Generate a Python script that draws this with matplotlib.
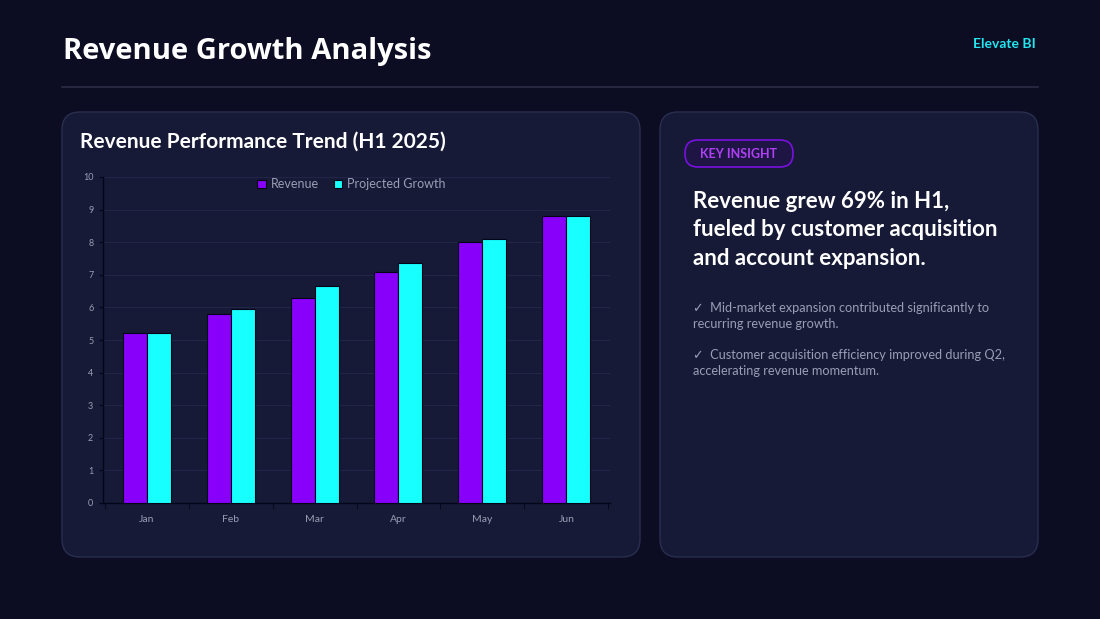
import numpy as np
import matplotlib
matplotlib.use("Agg")
import matplotlib.pyplot as plt
from matplotlib.patches import FancyBboxPatch

months = ["Jan", "Feb", "Mar", "Apr", "May", "Jun"]
revenue = [5.2, 5.8, 6.3, 7.1, 8.0, 8.8]
projected = [5.2, 5.95, 6.65, 7.35, 8.1, 8.8]
y_ticks = list(range(0, 11))

bullets = [
    "\u2713  Mid-market expansion contributed significantly to\nrecurring revenue growth.",
    "\u2713  Customer acquisition efficiency improved during Q2,\naccelerating revenue momentum.",
]

page_bg = "#0c0c22"
card_bg = "#161a36"
card_edge = "#2a2e4f"
purple = "#8800fa"
cyan = "#18ffff"
grey_text = "#9a9db5"

plt.rcParams["font.family"] = ["Lato", "DejaVu Sans"]

fig = plt.figure(figsize=(11, 6.19), dpi=100)
fig.patch.set_facecolor(page_bg)

# background layer in pixel coordinates
bg = fig.add_axes([0, 0, 1, 1])
bg.set_xlim(0, 1100)
bg.set_ylim(619, 0)
bg.axis("off")

bg.text(63, 51, "Revenue Growth Analysis", color="white", fontsize=21,
        fontweight="bold", va="center", ha="left",
        family=["Open Sans", "DejaVu Sans"])
bg.text(1036, 44, "Elevate BI", color="#22e6f0", fontsize=10,
        fontweight="bold", va="center", ha="right")
bg.plot([62, 1038], [87, 87], color="#2b2d48", lw=1.2)

for x0, x1 in [(62, 640), (660, 1038)]:
    card = FancyBboxPatch((x0, 112), x1 - x0, 445,
                          boxstyle="round,pad=0,rounding_size=18",
                          facecolor=card_bg, edgecolor=card_edge, lw=1)
    bg.add_patch(card)

bg.text(80, 142, "Revenue Performance Trend (H1 2025)", color="white",
        fontsize=15, fontweight="bold", va="center", ha="left")

# key insight pill
pill = FancyBboxPatch((685, 140), 108, 27,
                      boxstyle="round,pad=0,rounding_size=13",
                      facecolor="#1e1545", edgecolor="#7a10e0", lw=1.2)
bg.add_patch(pill)
bg.text(739, 153.5, "KEY INSIGHT", color="#b040f5", fontsize=9,
        fontweight="bold", va="center", ha="center")

bg.text(693, 230, "Revenue grew 69% in H1,\nfueled by customer acquisition\nand account expansion.",
        color="white", fontsize=16, fontweight="bold", va="center", ha="left",
        linespacing=1.45)

for i, b in enumerate(bullets):
    bg.text(693, 316 + i * 47, b, color=grey_text, fontsize=9.2,
            va="center", ha="left", linespacing=1.45)

# chart
ax = fig.add_axes([103 / 1100, 1 - 503 / 619, 507 / 1100, 326 / 619])
ax.set_facecolor(card_bg)
x = np.arange(len(months))
w = 0.286
ax.bar(x - w / 2, revenue, w, color=purple, edgecolor="#05051a", lw=0.8,
       label="Revenue", zorder=3)
ax.bar(x + w / 2, projected, w, color=cyan, edgecolor="#05051a", lw=0.8,
       label="Projected Growth", zorder=3)

ax.set_xlim(-0.52, len(months) - 0.48)
ax.set_ylim(0, 10)
ax.set_yticks(y_ticks)
ax.set_xticks(x)
ax.set_xticklabels(months)
ax.set_xticks(np.arange(len(months) + 1) - 0.5, minor=True)
ax.tick_params(axis="x", which="major", length=0, pad=9, labelsize=7.5,
               colors=grey_text)
ax.tick_params(axis="x", which="minor", length=4, color="#05051a")
ax.tick_params(axis="y", length=3, color="#05051a", labelsize=6.5,
               colors=grey_text, pad=4)
ax.grid(axis="y", color="#22274a", lw=0.7, zorder=0)
for s in ["top", "right"]:
    ax.spines[s].set_visible(False)
for s in ["left", "bottom"]:
    ax.spines[s].set_color("#05051a")
    ax.spines[s].set_linewidth(1)

leg = ax.legend(loc="upper center", bbox_to_anchor=(0.49, 1.015), ncol=2,
                frameon=False, fontsize=9, handlelength=0.7, handleheight=0.7,
                columnspacing=1.2, handletextpad=0.4, borderaxespad=0.1)
for t in leg.get_texts():
    t.set_color(grey_text)

fig.savefig("out.png", dpi=100, facecolor=page_bg)
